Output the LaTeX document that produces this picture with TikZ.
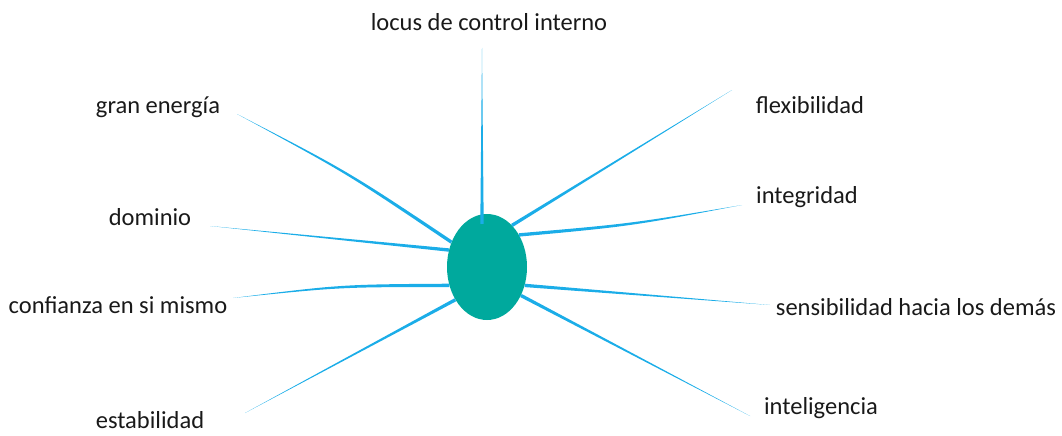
\documentclass[tikz,border=0pt]{standalone}
\usepackage{fontspec}
\setmainfont{Carlito}
\usetikzlibrary{shapes.geometric,calc}
\definecolor{spokeblue}{HTML}{1BADE8}
\definecolor{hubteal}{HTML}{00A99D}
\tikzset{
  lbl/.style={font=\fontsize{24.5}{28}\selectfont, text=black!90, inner sep=0pt},
  spoke/.style={fill=spokeblue},
  hubnode/.style={ellipse, fill=hubteal, minimum width=80, minimum height=106, inner sep=0pt}
}
% tapered spoke: inner end, bend offset, outer end
\newcommand\spoke[3]{%
  \path ($(#1)!.5!(#3)+(#2)$) coordinate (bend);
  \fill[spoke] ($(#1)!1.7pt!90:(bend)$) .. controls ($(bend)!1.3pt!90:(#3)$) .. (#3)
    .. controls ($(bend)!1.3pt!-90:(#3)$) .. ($(#1)!1.7pt!-90:(bend)$) -- cycle;}
\begin{document}
\begin{tikzpicture}[x=1pt, y=-1pt]
 \useasboundingbox (0,0) rectangle (1062,436);
 \node[hubnode] (hub) at (487,267) {};
 % labels
 \node[lbl] (locus) at (489,22) {locus de control interno};
 \node[lbl] (gran) at (158,107) {gran energía};
 \node[lbl] (flex) at (810,105) {flexibilidad};
 \node[lbl] (dom) at (150,217) {dominio};
 \node[lbl] (integ) at (807,197) {integridad};
 \node[lbl] (conf) at (118,305) {confianza en si mismo};
 \node[lbl] (sens) at (916,307) {sensibilidad hacia los demás};
 \node[lbl] (estab) at (150,420) {estabilidad};
 \node[lbl] (intel) at (821,408) {inteligencia};
 % free ends of the spokes
 \coordinate (e-locus) at (482,48);
 \coordinate (e-flex) at (732,90);
 \coordinate (e-integ) at (742,205);
 \coordinate (e-sens) at (770,305);
 \coordinate (e-intel) at (750,416);
 \coordinate (e-estab) at (245,413);
 \coordinate (e-conf) at (233,298);
 \coordinate (e-dom) at (210,226);
 \coordinate (e-gran) at (237,114);
 \spoke{$(hub.north)+(-5,10)$}{0,0}{e-locus}
 \spoke{hub.59}{0,0}{e-flex}
 \spoke{hub.45}{0,5}{e-integ}
 \spoke{hub.-26}{0,0}{e-sens}
 \spoke{hub.-40}{0,0}{e-intel}
 \spoke{hub.-134}{0,0}{e-estab}
 \spoke{hub.206}{0,-6}{e-conf}
 \spoke{hub.156}{0,0}{e-dom}
 \spoke{hub.145}{3.5,-5.5}{e-gran}
\end{tikzpicture}
\end{document}
